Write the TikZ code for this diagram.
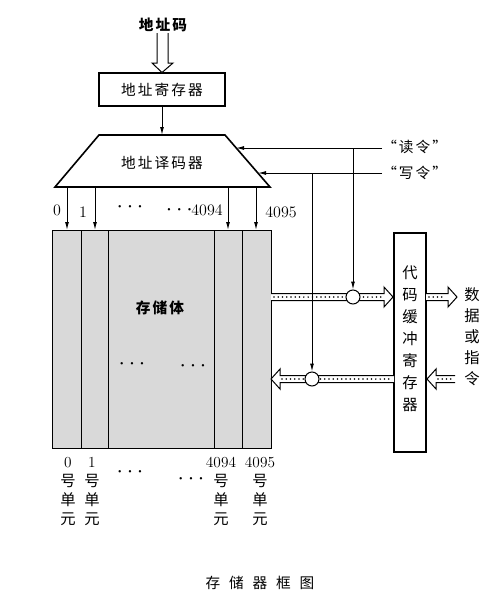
\documentclass[tikz,border=0pt]{standalone}
\usepackage{fontspec}
\newfontfamily\cjk[LetterSpace=14]{Noto Sans CJK SC}
\newfontfamily\cjkv{Noto Sans CJK SC}
\usetikzlibrary{arrows.meta,calc}
\newcommand\busright[3]{% x1 x2 y : arrow pointing right, tip at x2
  \draw[busline] (#1,{#3-3.5}) -- ({#2-9},{#3-3.5}) -- ({#2-9},{#3-10}) -- (#2,#3) -- ({#2-9},{#3+10}) -- ({#2-9},{#3+3.5}) -- (#1,{#3+3.5});
  \draw[busdots] ({#1+3},#3) -- ({#2-11},#3);}
\newcommand\busleft[3]{% x1 x2 y : arrow pointing left, tip at x1
  \draw[busline] (#2,{#3-3.5}) -- ({#1+9},{#3-3.5}) -- ({#1+9},{#3-10}) -- (#1,#3) -- ({#1+9},{#3+10}) -- ({#1+9},{#3+3.5}) -- (#2,{#3+3.5});
  \draw[busdots] ({#1+11},#3) -- ({#2-3},#3);}
\newcommand\mydots{{\fontsize{17}{17}\selectfont$\cdots$}}
\begin{document}
\begin{tikzpicture}[x=0.75pt,y=-0.75pt,
  thick line/.style={line width=1.2pt},
  thin line/.style={line width=0.75pt},
  box/.style={draw,thick line,inner sep=0pt},
  arr/.style={thin line,-{Latex[length=6pt,width=3pt]}},
  busline/.style={thin line,fill=white,line join=miter},
  busdots/.style={line width=1.3pt,line cap=round,dash pattern=on 0pt off 3.2pt},
  ring/.style={circle,draw,thin line,fill=white,minimum size=10.5pt,inner sep=0pt},
  lbl/.style={font=\cjk\fontsize{11}{12}\selectfont,inner sep=0pt},
  num/.style={font=\fontsize{12}{13}\selectfont,inner sep=0pt},
  vtext/.style={font=\cjkv\fontsize{11.5}{16.5}\selectfont,align=center,inner sep=0pt},
  under/.style={align=center,inner sep=0pt,font=\fontsize{11.5}{14.3}\selectfont},
]
\useasboundingbox (0,0) rectangle (496,600);

% address code and hollow arrow
\node[lbl,font=\cjk\bfseries\fontsize{11}{12}\selectfont] (addr) at (163,25) {地址码};
\node[box,minimum width=94.5pt,minimum height=24.75pt,lbl] (areg) at (162,89.5) {地址寄存器};
\draw[thin line,fill=white] (157,33) -- (157,63) -- (152,63) -- (162,72.5) -- (173,63) -- (168,63) -- (168,33);

% decoder trapezium
\coordinate (dTL) at (99,135);
\coordinate (dTR) at (225,135);
\coordinate (dBR) at (270,187);
\coordinate (dBL) at (55,187);
\draw[thick line,line join=miter] (dTL) -- (dTR) -- (dBR) -- (dBL) -- cycle;
\node[lbl] (dec) at (162,163) {地址译码器};
\draw[arr] (areg.south) -- (162,135);

% read / write commands
\coordinate (rdEnd) at (382,148);
\coordinate (wrEnd) at (382,173);
\coordinate (rdIn) at (236,148);
\coordinate (wrIn) at (258,173);
\draw[arr] (rdEnd) -- (rdIn);
\draw[arr] (wrEnd) -- (wrIn);
\node[lbl,anchor=west] (rdl) at (382,147) {“读令”};
\node[lbl,anchor=west] (wrl) at (382,173) {“写令”};

% memory body
\node[draw,thin line,fill=black!15,minimum width=164.25pt,minimum height=163.5pt,inner sep=0pt] (mem) at (161.5,339) {};
\foreach \x in {81,108,214,242} \draw[thin line] (\x,230) -- (\x,448);
\node[lbl,font=\cjk\bfseries\fontsize{11}{12}\selectfont] (memt) at (160,308) {存储体};
\node[inner sep=0pt] (md1) at (132,364) {\mydots};
\node[inner sep=0pt] (md2) at (193,366) {\mydots};

% decoder outputs
\foreach \x in {67,95,228,256} \draw[arr] (\x,187) -- (\x,230);
\node[num] (t0) at (57,210) {0};
\node[num] (t1) at (83,212) {1};
\node[inner sep=0pt] (tdots) at (130,207) {\mydots};
\node[num,anchor=east] (t4094) at (223,210) {\mydots\hspace{-1pt}4094};
\node[num] (t4095) at (281,212) {4095};

% buffer register
\node[box,minimum width=24pt,minimum height=164.25pt] (buf) at (410,342.5) {};
\node[vtext] (buft) at (410,338.5) {代\\码\\缓\\冲\\寄\\存\\器};

% buses
\busright{271}{393}{297}
\busright{426}{457}{297}
\busleft{271}{394}{379}
\busleft{427}{455}{379}
\node[ring] (rc) at (353,297) {};
\node[ring] (wc) at (312,379) {};
\draw[arr] (353,148) -- (rc.north);
\draw[arr] (312,173) -- (wc.north);

\node[vtext,font=\cjkv\fontsize{11.5}{15.8}\selectfont] (dat) at (472,337) {数\\据\\或\\指\\令};

% bottom labels
\node[under] (b0) at (68,491.5) {0\\{\cjkv 号}\\{\cjkv 单}\\{\cjkv 元}};
\node[under] (b1) at (92,491.5) {1\\{\cjkv 号}\\{\cjkv 单}\\{\cjkv 元}};
\node[under] (b4094) at (221,491.5) {4094\\{\cjkv 号}\\{\cjkv 单}\\{\cjkv 元}};
\node[under] (b4095) at (260,491.5) {4095\\{\cjkv 号}\\{\cjkv 单}\\{\cjkv 元}};
\node[inner sep=0pt] (bd1) at (130,472) {\mydots};
\node[inner sep=0pt] (bd2) at (191,479) {\mydots};

% caption
\node[lbl,font=\cjkv\fontsize{11}{12}\selectfont] (cap) at (260,583) {存\hspace{0.6em}储\hspace{0.6em}器\hspace{0.6em}框\hspace{0.6em}图};
\end{tikzpicture}
\end{document}
